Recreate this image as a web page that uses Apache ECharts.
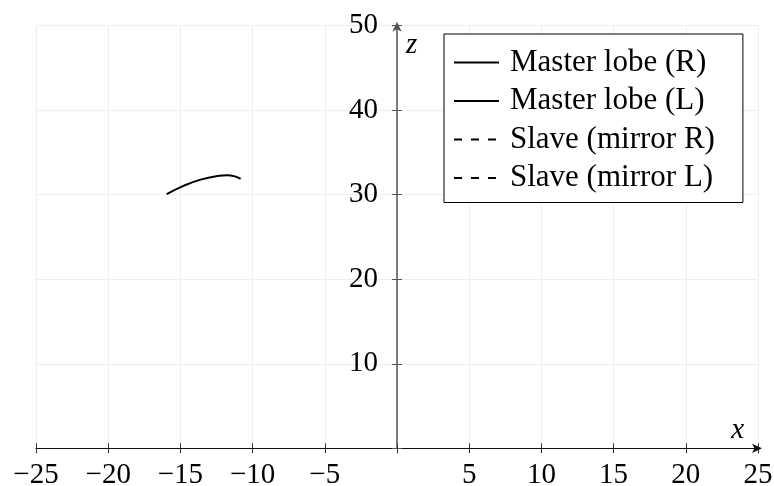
<!DOCTYPE html>
<html>
<head>
<meta charset="utf-8">
<script src="https://cdn.jsdelivr.net/npm/echarts@6/dist/echarts.min.js"></script>
<style>
html,body{margin:0;padding:0;background:#fff;}
#chart{width:774px;height:486px;}
</style>
</head>
<body>
<div id="chart"></div>
<script>
// Data
var seriesNames = ['Master lobe (R)', 'Master lobe (L)', 'Slave (mirror R)', 'Slave (mirror L)'];
var masterR = [];
var masterL = [
  [-15.95, 30.06], [-14.75, 31.08], [-13.6, 31.79], [-12.44, 32.22],
  [-11.75, 32.31], [-11.17, 32.14], [-10.83, 31.87]
];
var slaveR = [];
var slaveL = [];
var xMin = -25, xMax = 25, xStep = 5;
var zMin = 0, zMax = 50, zStep = 10;

var FONT = 'Liberation Serif';
function fmt(v) {
  if (v === 0) return '';
  return v < 0 ? '\u2212' + Math.abs(v) : String(v);
}

var chart = echarts.init(document.getElementById('chart'), null, {renderer: 'canvas'});
var option = {
  backgroundColor: '#ffffff',
  animation: false,
  grid: {left: 36, right: 16, top: 25.7, bottom: 37.7, containLabel: false, outerBoundsMode: 'none'},
  legend: {
    orient: 'vertical',
    left: 444, top: 34,
    backgroundColor: '#ffffff',
    borderColor: '#000000', borderWidth: 1,
    padding: [13, 28, 9, 9],
    itemGap: 7.5,
    itemWidth: 45, itemHeight: 14,
    itemStyle: {opacity: 0},
    textStyle: {fontFamily: FONT, fontSize: 31, color: '#000', lineHeight: 30, padding: [0, 0, 0, 6]},
    data: seriesNames
  },
  xAxis: [{
    type: 'value', min: xMin, max: xMax, interval: xStep,
    name: 'x', nameLocation: 'end', nameGap: -14,
    nameTextStyle: {fontFamily: FONT, fontStyle: 'italic', fontSize: 29, color: '#000', align: 'right', verticalAlign: 'bottom', padding: [0, 0, 3, 0]},
    axisLine: {onZero: true, onZeroAxisIndex: 0, lineStyle: {color: '#111', width: 1.2}, symbol: ['none', 'arrow'], symbolSize: [7, 10], symbolOffset: [0, 4]},
    axisTick: {show: true, inside: false, length: 5, lineStyle: {color: '#333'}},
    axisLabel: {fontFamily: FONT, fontSize: 29, color: '#000', margin: 13, formatter: fmt},
    splitLine: {show: true, lineStyle: {color: '#eeeeee', width: 1}}
  }, {
    type: 'value', min: xMin, max: xMax, interval: xStep, position: 'bottom',
    axisLine: {show: false, onZero: true, onZeroAxisIndex: 1},
    axisTick: {show: true, inside: true, length: 5, lineStyle: {color: '#333'}},
    axisLabel: {show: false},
    splitLine: {show: false}
  }],
  yAxis: [{
    type: 'value', min: zMin, max: zMax, interval: zStep,
    name: 'z', nameLocation: 'end', nameGap: -5,
    nameTextStyle: {fontFamily: FONT, fontStyle: 'italic', fontSize: 29, color: '#000', align: 'left', verticalAlign: 'top', padding: [0, 0, 0, 9]},
    axisLine: {onZero: true, onZeroAxisIndex: 0, lineStyle: {color: '#555', width: 1.5}, symbol: ['none', 'arrow'], symbolSize: [7, 10], symbolOffset: [0, 4]},
    axisTick: {show: true, inside: false, length: 5, lineStyle: {color: '#555'}},
    axisLabel: {fontFamily: FONT, fontSize: 29, color: '#000', margin: -342, formatter: fmt},
    splitLine: {show: true, lineStyle: {color: '#eeeeee', width: 1}}
  }, {
    type: 'value', min: zMin, max: zMax, interval: zStep, position: 'left',
    axisLine: {show: false, onZero: true, onZeroAxisIndex: 1},
    axisTick: {show: true, inside: true, length: 5, lineStyle: {color: '#555'}},
    axisLabel: {show: false},
    splitLine: {show: false}
  }],
  series: [
    {name: seriesNames[0], type: 'line', data: masterR, symbol: 'none', smooth: true, lineStyle: {color: '#000', width: 2}, itemStyle: {color: '#000'}},
    {name: seriesNames[1], type: 'line', data: masterL, symbol: 'none', smooth: true, lineStyle: {color: '#000', width: 2}, itemStyle: {color: '#000'}},
    {name: seriesNames[2], type: 'line', data: slaveR, symbol: 'none', smooth: true, lineStyle: {color: '#000', width: 1.1, type: [8, 9]}, itemStyle: {color: '#000'}},
    {name: seriesNames[3], type: 'line', data: slaveL, symbol: 'none', smooth: true, lineStyle: {color: '#000', width: 1.1, type: [8, 9]}, itemStyle: {color: '#000'}}
  ]
};
chart.setOption(option);
</script>
</body>
</html>
